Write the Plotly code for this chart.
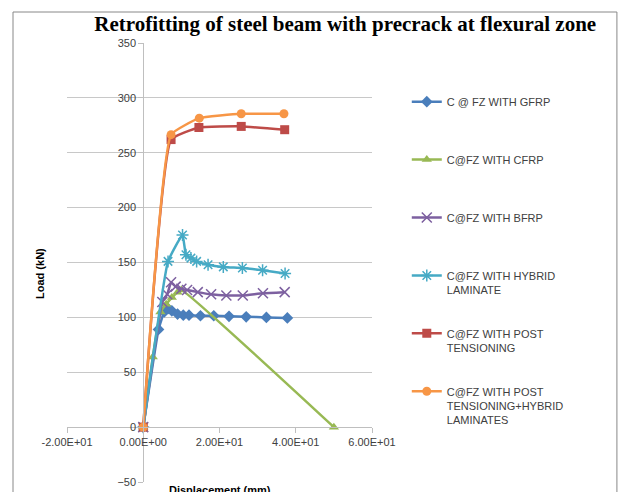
import plotly.graph_objects as go

# Load-displacement readings (displacement mm, load kN)
gfrp_x = [0, 4, 5.5, 6.5, 7.5, 9, 10.5, 12, 15, 18.5, 22.5, 27, 32.3, 37.8]
gfrp_y = [0, 89, 105, 108, 106, 103, 102, 102, 101.5, 101.5, 101, 100.5, 100, 99.5]

cfrp_x = [0, 2.5, 4.5, 6, 7.5, 9, 10, 50]
cfrp_y = [0, 64, 105, 112, 118, 123, 125, 0]

bfrp_x = [0, 5, 6.3, 7.3, 8.5, 10, 11.5, 14.3, 17.8, 21.8, 26.1, 31.4, 37.1]
bfrp_y = [0, 114, 121, 132, 128, 126, 125, 123, 121, 120, 120, 122, 123]

hyb_x = [0, 6.5, 10.3, 11.2, 12.5, 14, 17, 21, 26, 31.3, 37.2]
hyb_y = [0, 151, 175, 157, 154, 151, 148, 146, 145, 143, 140]

pt_x = [0, 7.3, 14.6, 25.7, 37.1]
pt_y = [0, 262, 273, 274, 271]

pth_x = [0, 7.3, 14.7, 25.7, 36.9]
pth_y = [0, 266.5, 281.5, 285.5, 285.5]

names = [
    "C @ FZ WITH GFRP",
    "C@FZ WITH CFRP",
    "C@FZ WITH BFRP",
    "C@FZ WITH HYBRID<br>LAMINATE",
    "C@FZ WITH POST<br>TENSIONING",
    "C@FZ WITH POST<br>TENSIONING+HYBRID<br>LAMINATES",
]
colors = ["#4A7EBB", "#98B954", "#7D60A0", "#46AAC5", "#BE4B48", "#F79646"]
symbols = ["diamond", "triangle-up", "x-thin", "asterisk", "square", "circle"]

xtick_vals = [-20, 0, 20, 40, 60]
xtick_text = ["-2.00E+01", "0.00E+00", "2.00E+01", "4.00E+01", "6.00E+01"]

series = [(gfrp_x, gfrp_y), (cfrp_x, cfrp_y), (bfrp_x, bfrp_y),
          (hyb_x, hyb_y), (pt_x, pt_y), (pth_x, pth_y)]


def pad(label, lines=3):
    n = label.count("<br>") + 1
    return label + "<br> " * (lines - n)


fig = go.Figure()
for i, ((xs, ys), name, col, sym) in enumerate(zip(series, names, colors, symbols)):
    open_sym = sym in ("x-thin", "asterisk")
    fig.add_trace(go.Scatter(
        x=xs, y=ys, name=pad(name), mode="lines+markers", legendgroup=str(i),
        line=dict(color=col, width=2.5, shape="spline", smoothing=0.35),
        marker=dict(symbol=sym, size=9 if not open_sym else 10, color=col,
                    line=dict(color=col, width=1.5 if open_sym else 0)),
    ))

fig.update_layout(
    width=622, height=492,
    margin=dict(l=67, r=250, t=43, b=10, autoexpand=False),
    paper_bgcolor="white", plot_bgcolor="white",
    font=dict(family="Liberation Sans, Arial, sans-serif", size=11, color="#404040"),
    title=dict(text="<b>Retrofitting of steel beam with precrack at flexural zone</b>",
               font=dict(family="Liberation Serif, Times New Roman, serif", size=21, color="black"),
               x=0.555, xanchor="center", y=0.951, yanchor="middle"),
    xaxis=dict(range=[-20, 60], tickvals=xtick_vals, ticktext=xtick_text,
               showgrid=False, zeroline=False, showline=True, linecolor="#BFBFBF",
               ticks="outside", ticklen=5, tickcolor="#BFBFBF",
               anchor="free", position=0.125),
    yaxis=dict(range=[-50, 350], dtick=50, showgrid=True, gridcolor="#C8C8C8",
               zeroline=False, showline=True, linecolor="#BFBFBF",
               ticks="outside", ticklen=5, tickcolor="#BFBFBF",
               anchor="free", position=0.25),
    legend=dict(xref="container", yref="container", x=0.654, xanchor="left",
                y=0.821, yanchor="top", valign="top", maxheight=480,
                font=dict(size=11, color="#404040"), bgcolor="rgba(0,0,0,0)",
                itemwidth=30, tracegroupgap=12),
    annotations=[
        dict(text="<b>Load (kN)</b>", textangle=-90, xref="paper", yref="paper",
             x=-0.115, y=0.476, showarrow=False, font=dict(size=11, color="black")),
        dict(text="<b>Displacement (mm)</b>", xref="paper", yref="paper",
             x=0.5, y=0.0, yanchor="top", showarrow=False,
             font=dict(size=11, color="black")),
    ],
    shapes=[dict(type="rect", xref="paper", yref="paper", x0=-0.177, x1=1.803,
                 y0=-0.2, y1=1.0706, line=dict(color="#888888", width=1))],
    showlegend=True,
)

# the page body has a default 8px margin; drop it so the figure sits at the corner
fig.write_html("out.html", config={"displayModeBar": False},
               post_script="document.body.style.margin = '0';")
